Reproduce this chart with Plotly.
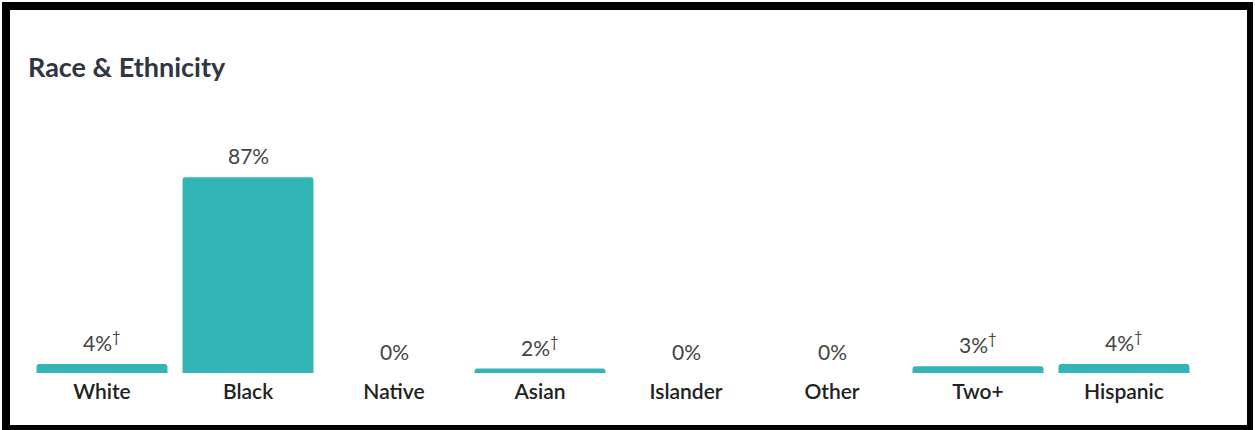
import plotly.graph_objects as go

categories = ["White", "Black", "Native", "Asian", "Islander", "Other", "Two+", "Hispanic"]
values = [4, 87, 0, 2, 0, 0, 3, 4]
value_labels = ["4%<sup>†</sup>", "87%", "0%", "2%<sup>†</sup>", "0%", "0%", "3%<sup>†</sup>", "4%<sup>†</sup>"]

W, H = 1255, 430
L, R, T, B = 29, 58, 148, 57
pw, ph = W - L - R, H - T - B

def px_x(p):
    return (p - L) / pw

def px_y(p):
    return (H - B - p) / ph

fig = go.Figure()
fig.add_trace(go.Bar(
    x=categories, y=values,
    marker=dict(color="#33b5b5", line=dict(width=0), cornerradius=3),
    hoverinfo="skip",
))

for c, v, t in zip(categories, values, value_labels):
    fig.add_annotation(x=c, y=v, text=t, showarrow=False, yanchor="bottom",
                       yshift=7, font=dict(family="Lato", size=21, color="#444444"))

fig.add_annotation(x=px_x(26), y=px_y(67), xref="paper", yref="paper",
                   text="<b>Race &amp; Ethnicity</b>", showarrow=False,
                   xanchor="left", yanchor="middle",
                   font=dict(family="Lato", size=27, color="#2f3640"))

# frame
frame = [
    (2, 2, 10, 430),      # left
    (2, 2, 1253, 10),     # top
    (1247, 2, 1253, 430), # right
    (2, 425, 1253, 430),  # bottom
]
for x0, y0, x1, y1 in frame:
    fig.add_shape(type="rect", xref="paper", yref="paper",
                  x0=px_x(x0), x1=px_x(x1), y0=px_y(y0), y1=px_y(y1),
                  fillcolor="black", line=dict(width=0), layer="above")

fig.update_layout(
    width=W, height=H,
    margin=dict(l=L, r=R, t=T, b=B, pad=0),
    paper_bgcolor="white", plot_bgcolor="white",
    bargap=0.103,
    showlegend=False,
    xaxis=dict(showline=False, showgrid=False, zeroline=False, ticks="",
               tickfont=dict(family="Lato", size=21, color="#222222", weight=600),
               ticklabelstandoff=4, fixedrange=True),
    yaxis=dict(range=[0, 100], visible=False, showgrid=False, zeroline=False,
               fixedrange=True),
)

fig.write_html("out.html", config={"displayModeBar": False},
               post_script="document.body.style.margin='0';document.body.style.overflow='hidden';")
